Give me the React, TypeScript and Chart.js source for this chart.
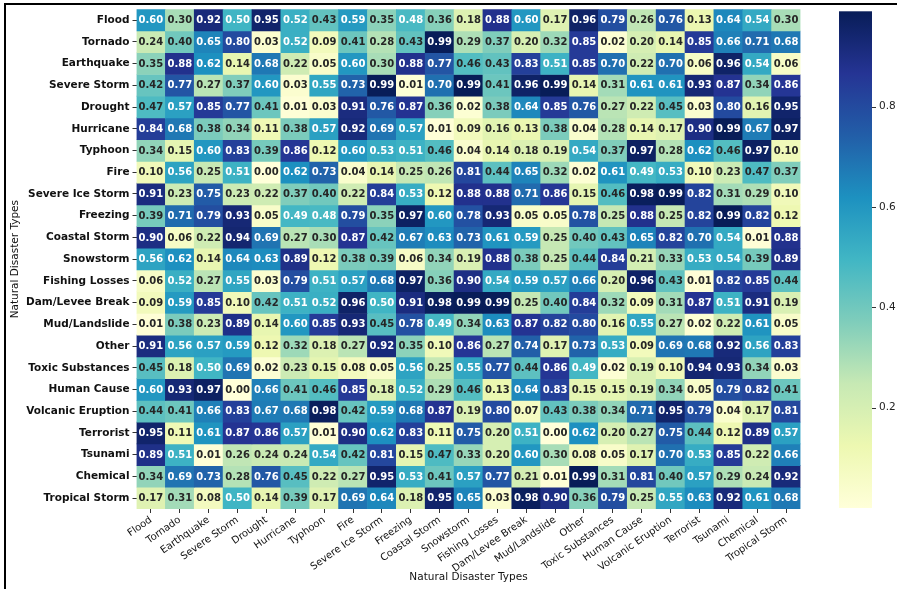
import React, { useEffect, useRef } from 'react';
import { Chart, registerables } from 'chart.js';

Chart.register(...registerables);

const disasterTypes = [
  'Flood', 'Tornado', 'Earthquake', 'Severe Storm', 'Drought', 'Hurricane', 'Typhoon', 'Fire',
  'Severe Ice Storm', 'Freezing', 'Coastal Storm', 'Snowstorm', 'Fishing Losses', 'Dam/Levee Break',
  'Mud/Landslide', 'Other', 'Toxic Substances', 'Human Cause', 'Volcanic Eruption', 'Terrorist',
  'Tsunami', 'Chemical', 'Tropical Storm',
];

const flood = [0.60, 0.30, 0.92, 0.50, 0.95, 0.52, 0.43, 0.59, 0.35, 0.48, 0.36, 0.18, 0.88, 0.60, 0.17, 0.96, 0.79, 0.26, 0.76, 0.13, 0.64, 0.54, 0.30];
const tornado = [0.24, 0.40, 0.65, 0.80, 0.03, 0.52, 0.09, 0.41, 0.28, 0.43, 0.99, 0.29, 0.37, 0.20, 0.32, 0.85, 0.02, 0.20, 0.14, 0.85, 0.66, 0.71, 0.68];
const earthquake = [0.35, 0.88, 0.62, 0.14, 0.68, 0.22, 0.05, 0.60, 0.30, 0.88, 0.77, 0.46, 0.43, 0.83, 0.51, 0.85, 0.70, 0.22, 0.70, 0.06, 0.96, 0.54, 0.06];
const severeStorm = [0.42, 0.77, 0.27, 0.37, 0.60, 0.03, 0.55, 0.73, 0.99, 0.01, 0.70, 0.99, 0.41, 0.96, 0.99, 0.14, 0.31, 0.61, 0.61, 0.93, 0.87, 0.34, 0.86];
const drought = [0.47, 0.57, 0.85, 0.77, 0.41, 0.01, 0.03, 0.91, 0.76, 0.87, 0.36, 0.02, 0.38, 0.64, 0.85, 0.76, 0.27, 0.22, 0.45, 0.03, 0.80, 0.16, 0.95];
const hurricane = [0.84, 0.68, 0.38, 0.34, 0.11, 0.38, 0.57, 0.92, 0.69, 0.57, 0.01, 0.09, 0.16, 0.13, 0.38, 0.04, 0.28, 0.14, 0.17, 0.90, 0.99, 0.67, 0.97];
const typhoon = [0.34, 0.15, 0.60, 0.83, 0.39, 0.86, 0.12, 0.60, 0.53, 0.51, 0.46, 0.04, 0.14, 0.18, 0.19, 0.54, 0.37, 0.97, 0.28, 0.62, 0.46, 0.97, 0.10];
const fire = [0.10, 0.56, 0.25, 0.51, 0.00, 0.62, 0.73, 0.04, 0.14, 0.25, 0.26, 0.81, 0.44, 0.65, 0.32, 0.02, 0.61, 0.49, 0.53, 0.10, 0.23, 0.47, 0.37];
const severeIceStorm = [0.91, 0.23, 0.75, 0.23, 0.22, 0.37, 0.40, 0.22, 0.84, 0.53, 0.12, 0.88, 0.88, 0.71, 0.86, 0.15, 0.46, 0.98, 0.99, 0.82, 0.31, 0.29, 0.10];
const freezing = [0.39, 0.71, 0.79, 0.93, 0.05, 0.49, 0.48, 0.79, 0.35, 0.97, 0.60, 0.78, 0.93, 0.05, 0.05, 0.78, 0.25, 0.88, 0.25, 0.82, 0.99, 0.82, 0.12];
const coastalStorm = [0.90, 0.06, 0.22, 0.94, 0.69, 0.27, 0.30, 0.87, 0.42, 0.67, 0.63, 0.73, 0.61, 0.59, 0.25, 0.40, 0.43, 0.65, 0.82, 0.70, 0.54, 0.01, 0.88];
const snowstorm = [0.56, 0.62, 0.14, 0.64, 0.63, 0.89, 0.12, 0.38, 0.39, 0.06, 0.34, 0.19, 0.88, 0.38, 0.25, 0.44, 0.84, 0.21, 0.33, 0.53, 0.54, 0.39, 0.89];
const fishingLosses = [0.06, 0.52, 0.27, 0.55, 0.03, 0.79, 0.51, 0.57, 0.68, 0.97, 0.36, 0.90, 0.54, 0.59, 0.57, 0.66, 0.20, 0.96, 0.43, 0.01, 0.82, 0.85, 0.44];
const damLeveeBreak = [0.09, 0.59, 0.85, 0.10, 0.42, 0.51, 0.52, 0.96, 0.50, 0.91, 0.98, 0.99, 0.99, 0.25, 0.40, 0.84, 0.32, 0.09, 0.31, 0.87, 0.51, 0.91, 0.19];
const mudLandslide = [0.01, 0.38, 0.23, 0.89, 0.14, 0.60, 0.85, 0.93, 0.45, 0.78, 0.49, 0.34, 0.63, 0.87, 0.82, 0.80, 0.16, 0.55, 0.27, 0.02, 0.22, 0.61, 0.05];
const other = [0.91, 0.56, 0.57, 0.59, 0.12, 0.32, 0.18, 0.27, 0.92, 0.35, 0.10, 0.86, 0.27, 0.74, 0.17, 0.73, 0.53, 0.09, 0.69, 0.68, 0.92, 0.56, 0.83];
const toxicSubstances = [0.45, 0.18, 0.50, 0.69, 0.02, 0.23, 0.15, 0.08, 0.05, 0.56, 0.25, 0.55, 0.77, 0.44, 0.86, 0.49, 0.02, 0.19, 0.10, 0.94, 0.93, 0.34, 0.03];
const humanCause = [0.60, 0.93, 0.97, 0.00, 0.66, 0.41, 0.46, 0.85, 0.18, 0.52, 0.29, 0.46, 0.13, 0.64, 0.83, 0.15, 0.15, 0.19, 0.34, 0.05, 0.79, 0.82, 0.41];
const volcanicEruption = [0.44, 0.41, 0.66, 0.83, 0.67, 0.68, 0.98, 0.42, 0.59, 0.68, 0.87, 0.19, 0.80, 0.07, 0.43, 0.38, 0.34, 0.71, 0.95, 0.79, 0.04, 0.17, 0.81];
const terrorist = [0.95, 0.11, 0.61, 0.87, 0.86, 0.57, 0.01, 0.90, 0.62, 0.83, 0.11, 0.75, 0.20, 0.51, 0.00, 0.62, 0.20, 0.27, 0.75, 0.44, 0.12, 0.89, 0.57];
const tsunami = [0.89, 0.51, 0.01, 0.26, 0.24, 0.24, 0.54, 0.42, 0.81, 0.15, 0.47, 0.33, 0.20, 0.60, 0.30, 0.08, 0.05, 0.17, 0.70, 0.53, 0.85, 0.22, 0.66];
const chemical = [0.34, 0.69, 0.73, 0.28, 0.76, 0.45, 0.22, 0.27, 0.95, 0.53, 0.41, 0.57, 0.77, 0.21, 0.01, 0.99, 0.31, 0.81, 0.40, 0.57, 0.29, 0.24, 0.92];
const tropicalStorm = [0.17, 0.31, 0.08, 0.50, 0.14, 0.39, 0.17, 0.69, 0.64, 0.18, 0.95, 0.65, 0.03, 0.98, 0.90, 0.36, 0.79, 0.25, 0.55, 0.63, 0.92, 0.61, 0.68];

const matrix = [
  flood, tornado, earthquake, severeStorm, drought, hurricane, typhoon, fire, severeIceStorm, freezing,
  coastalStorm, snowstorm, fishingLosses, damLeveeBreak, mudLandslide, other, toxicSubstances, humanCause,
  volcanicEruption, terrorist, tsunami, chemical, tropicalStorm,
];

const colorbarTicks = [0.2, 0.4, 0.6, 0.8];
const VMIN = 0.0;
const VMAX = 0.99;

const YLGNBU = ['#ffffd9', '#edf8b1', '#c7e9b4', '#7fcdbb', '#41b6c4', '#1d91c0', '#225ea8', '#253494', '#081d58'];

function hexToRgb(h: string): number[] {
  return [parseInt(h.slice(1, 3), 16), parseInt(h.slice(3, 5), 16), parseInt(h.slice(5, 7), 16)];
}
const STOPS = YLGNBU.map(hexToRgb);

function rgbFor(v: number): number[] {
  let t = (v - VMIN) / (VMAX - VMIN);
  t = Math.max(0, Math.min(1, t));
  const p = t * (STOPS.length - 1);
  const i = Math.min(STOPS.length - 2, Math.floor(p));
  const f = p - i;
  const a = STOPS[i];
  const b = STOPS[i + 1];
  return [0, 1, 2].map((k) => Math.round(a[k] + (b[k] - a[k]) * f));
}
function colorFor(v: number): string {
  const [r, g, b] = rgbFor(v);
  return `rgb(${r},${g},${b})`;
}
function textColorFor(v: number): string {
  const lin = rgbFor(v).map((c) => {
    const s = c / 255;
    return s <= 0.03928 ? s / 12.92 : Math.pow((s + 0.055) / 1.055, 2.4);
  });
  const lum = 0.2126 * lin[0] + 0.7152 * lin[1] + 0.0722 * lin[2];
  return lum > 0.408 ? '#262626' : '#ffffff';
}

const FONT = 'DejaVu Sans';

const annotatePlugin = {
  id: 'annotate',
  afterDatasetsDraw(chart: any) {
    const ctx = chart.ctx;
    ctx.save();
    ctx.font = `bold 10px "${FONT}"`;
    ctx.textAlign = 'center';
    ctx.textBaseline = 'middle';
    matrix.forEach((row, i) => {
      const meta = chart.getDatasetMeta(i);
      row.forEach((v, j) => {
        const el = meta.data[j];
        if (!el) return;
        const cy = (el.y + el.base) / 2;
        ctx.fillStyle = textColorFor(v);
        ctx.fillText(v.toFixed(2), el.x, cy + 0.5);
      });
    });
    ctx.restore();
  },
};

const colorbarPlugin = {
  id: 'colorbar',
  afterDraw(chart: any) {
    const ctx = chart.ctx;
    const area = chart.chartArea;
    const x0 = 839;
    const w = 33;
    const top = area.top + 2;
    const bottom = area.bottom - 1;
    ctx.save();
    const g = ctx.createLinearGradient(0, bottom, 0, top);
    YLGNBU.forEach((c, k) => g.addColorStop(k / (YLGNBU.length - 1), c));
    ctx.fillStyle = g;
    ctx.fillRect(x0, top, w, bottom - top);
    ctx.strokeStyle = '#333';
    ctx.lineWidth = 1;
    ctx.font = `10.5px "${FONT}"`;
    ctx.fillStyle = '#222';
    ctx.textAlign = 'left';
    ctx.textBaseline = 'middle';
    colorbarTicks.forEach((v) => {
      const y = bottom - ((v - VMIN) / (VMAX - VMIN)) * (bottom - top);
      ctx.beginPath();
      ctx.moveTo(x0 + w, Math.round(y) + 0.5);
      ctx.lineTo(x0 + w + 4, Math.round(y) + 0.5);
      ctx.stroke();
      ctx.fillText(v.toFixed(1), x0 + w + 7, y);
    });
    // page frame
    ctx.strokeStyle = '#000';
    ctx.lineWidth = 2;
    ctx.beginPath();
    ctx.moveTo(5, 589);
    ctx.lineTo(5, 4);
    ctx.lineTo(897, 4);
    ctx.stroke();
    ctx.restore();
  },
};

export default function App() {
  const ref = useRef<HTMLCanvasElement | null>(null);
  useEffect(() => {
    if (!ref.current) return;
    const datasets = disasterTypes.map((name, i) => ({
      label: name,
      data: disasterTypes.map(() => 1),
      backgroundColor: matrix[i].map(colorFor),
      borderWidth: 0,
      barPercentage: 1,
      categoryPercentage: 1,
      stack: 'heat',
    }));
    const yTickFont = { family: FONT, size: 10.5, weight: 'bold' as const };
    const xTickFont = { family: FONT, size: 10 };
    const chart = new Chart(ref.current, {
      type: 'bar',
      data: { labels: disasterTypes, datasets },
      plugins: [annotatePlugin, colorbarPlugin],
      options: {
        animation: false,
        responsive: true,
        maintainAspectRatio: false,
        layout: { padding: { left: 0, top: 9, right: 96.5, bottom: 0 } },
        plugins: { legend: { display: false }, tooltip: { enabled: false } },
        scales: {
          x: {
            type: 'category',
            stacked: true,
            offset: true,
            border: { display: false },
            grid: { display: true, offset: false, drawOnChartArea: false, drawTicks: true, tickLength: 4, tickColor: '#333' },
            ticks: { autoSkip: false, maxRotation: 35, minRotation: 35, font: xTickFont, color: '#111', padding: 1 },
            title: { display: true, text: 'Natural Disaster Types', font: { family: FONT, size: 10.5 }, color: '#111', padding: { top: 0, bottom: 5 } },
            afterFit: (s: any) => { s.height = 80; },
          },
          y: {
            type: 'linear',
            stacked: true,
            reverse: true,
            min: 0,
            max: disasterTypes.length,
            border: { display: false },
            grid: { display: true, drawOnChartArea: false, drawTicks: true, tickLength: 4, tickColor: '#333' },
            afterBuildTicks: (s: any) => { s.ticks = disasterTypes.map((_, i) => ({ value: i + 0.5 })); },
            ticks: {
              autoSkip: false,
              font: yTickFont,
              color: '#111',
              padding: 3,
              callback: (v: any) => disasterTypes[Math.floor(Number(v))],
            },
            title: { display: true, text: 'Natural Disaster Types', font: { family: FONT, size: 10.5 }, color: '#111', padding: { top: 9, bottom: 0 } },
            afterFit: (s: any) => { s.width = 136.5; },
          },
        },
      } as any,
    });
    return () => chart.destroy();
  }, []);
  return (
    <div style={{ position: 'fixed', left: 0, top: 0, width: 897, height: 589, background: '#fff' }}>
      <canvas ref={ref} />
    </div>
  );
}
